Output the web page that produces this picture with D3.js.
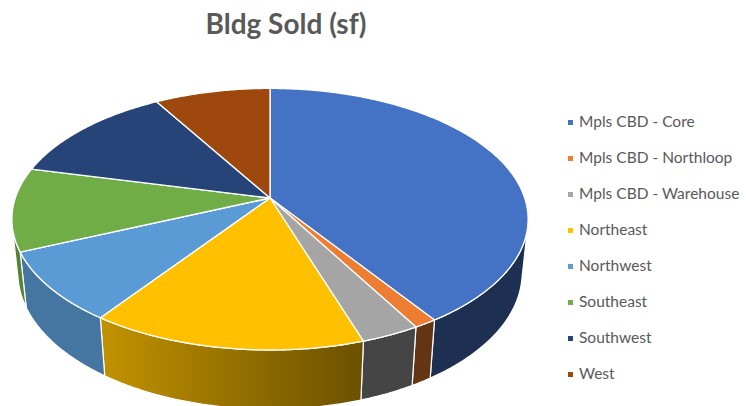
<!DOCTYPE html>
<html>
<head>
<meta charset="utf-8">
<script src="https://cdn.jsdelivr.net/npm/d3@7"></script>
<style>
  html, body { margin: 0; padding: 0; background: #fff; }
  svg { display: block; }
</style>
</head>
<body>
<svg id="chart" width="746" height="406"></svg>
<script>
// Building square footage sold, by submarket
const categories = [
  "Mpls CBD - Core",
  "Mpls CBD - Northloop",
  "Mpls CBD - Warehouse",
  "Northeast",
  "Northwest",
  "Southeast",
  "Southwest",
  "West"
];
const values = [405600, 12500, 31700, 148300, 86900, 102800, 127500, 84700];
const sliceColors = ["#4472C4", "#ED7D31", "#A5A5A5", "#FFC000", "#5B9BD5", "#70AD47", "#264478", "#9E480E"];
const chartTitle = "Bldg Sold (sf)";

const svg = d3.select("#chart");
const defs = svg.append("defs");

// Perspective camera for the tilted disk (radius 1, thickness h)
const cx = 270, cy = 198;          // screen position of the pie centre
const F = 1360, D = 5.34;          // focal length (px) and camera distance (radii)
const elev = 30 * Math.PI / 180;
const sinE = Math.sin(elev), cosE = Math.cos(elev);
const thickness = 0.247;

function project(theta, r, y) {
  const x = r * Math.sin(theta);
  const z = -r * Math.cos(theta);   // angle 0 points away from the viewer
  const up = y * cosE - z * sinE;
  const depth = D - (y * sinE + z * cosE);
  return [cx + F * x / depth, cy - F * up / depth];
}

const pie = d3.pie().sort(null).value(d => d);
const arcs = pie(values);

const line = d3.line().curve(d3.curveLinear);

function sampleAngles(a0, a1) {
  const n = Math.max(2, Math.ceil(Math.abs(a1 - a0) / 0.01));
  return d3.range(n + 1).map(i => a0 + (a1 - a0) * i / n);
}

// Outer wall is visible where its normal faces the camera
const wallLimit = Math.acos(-1 / (D * cosE));     // ~102.5 deg
const wallFrom = wallLimit, wallTo = 2 * Math.PI - wallLimit;

function shade(theta) {
  const deg = theta * 180 / Math.PI;
  if (deg <= 162) return 0.42;
  if (deg >= 215) return 0.76;
  return 0.42 + (deg - 162) / 53 * 0.34;
}
function scaleColor(c, k) {
  const rgb = d3.rgb(c);
  return d3.rgb(rgb.r * k, rgb.g * k, rgb.b * k).formatHex();
}

const walls = svg.append("g").attr("class", "walls");
arcs.forEach((a, i) => {
  const a0 = Math.max(a.startAngle, wallFrom);
  const a1 = Math.min(a.endAngle, wallTo);
  if (a1 <= a0) return;
  const angles = sampleAngles(a0, a1);
  const topRim = angles.map(t => project(t, 1, 0));
  const bottomRim = angles.slice().reverse().map(t => project(t, 1, -thickness));
  const gid = "side" + i;
  const pStart = project(a0, 1, 0), pEnd = project(a1, 1, 0);
  const grad = defs.append("linearGradient")
    .attr("id", gid)
    .attr("gradientUnits", "userSpaceOnUse")
    .attr("x1", pStart[0]).attr("y1", 0)
    .attr("x2", pEnd[0]).attr("y2", 0);
  grad.append("stop").attr("offset", 0).attr("stop-color", scaleColor(sliceColors[i], shade(a0)));
  grad.append("stop").attr("offset", 1).attr("stop-color", scaleColor(sliceColors[i], shade(a1)));
  walls.append("path")
    .attr("d", line(topRim.concat(bottomRim)) + "Z")
    .attr("fill", `url(#${gid})`)
    .attr("stroke", "#ffffff")
    .attr("stroke-width", 1.2)
    .attr("stroke-linejoin", "round");
});

const tops = svg.append("g").attr("class", "tops");
arcs.forEach((a, i) => {
  const rim = sampleAngles(a.startAngle, a.endAngle).map(t => project(t, 1, 0));
  const pts = [[cx, cy]].concat(rim);
  tops.append("path")
    .attr("d", line(pts) + "Z")
    .attr("fill", sliceColors[i])
    .attr("stroke", "#ffffff")
    .attr("stroke-width", 1.3)
    .attr("stroke-linejoin", "round");
});

// Title
svg.append("text")
  .attr("x", 286)
  .attr("y", 34)
  .attr("text-anchor", "middle")
  .attr("font-family", "Lato, 'Open Sans', sans-serif")
  .attr("font-weight", 700)
  .attr("font-size", 28)
  .attr("fill", "#595959")
  .text(chartTitle);

// Legend
const legendY = d3.scalePoint().domain(categories).range([122, 374]);
const legend = svg.append("g").attr("class", "legend");
const items = legend.selectAll("g").data(categories).join("g")
  .attr("transform", d => `translate(568,${legendY(d)})`);
items.append("rect")
  .attr("x", 0).attr("y", -2)
  .attr("width", 5).attr("height", 5)
  .attr("fill", (d, i) => sliceColors[i]);
items.append("text")
  .attr("x", 11)
  .attr("y", 0)
  .attr("dy", "0.35em")
  .attr("font-family", "Lato, 'Open Sans', sans-serif")
  .attr("font-size", 15.5)
  .attr("fill", "#595959")
  .text(d => d);
</script>
</body>
</html>
